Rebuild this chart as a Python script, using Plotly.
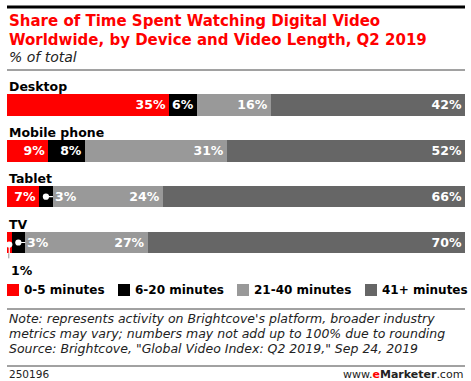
import plotly.graph_objects as go

devices = ["Desktop", "Mobile phone", "Tablet", "TV"]
lengths = ["0-5 minutes", "6-20 minutes", "21-40 minutes", "41+ minutes"]
values = {
    "0-5 minutes": [35, 9, 7, 1],
    "6-20 minutes": [6, 8, 3, 3],
    "21-40 minutes": [16, 31, 24, 27],
    "41+ minutes": [42, 52, 66, 70],
}
colors = ["#ff0000", "#000000", "#999999", "#666666"]
title_lines = ["Share of Time Spent Watching Digital Video",
               "Worldwide, by Device and Video Length, Q2 2019"]
subtitle = "% of total"
notes = ["Note: represents activity on Brightcove's platform, broader industry",
         "metrics may vary; numbers may not add up to 100% due to rounding",
         "Source: Brightcove, \"Global Video Index: Q2 2019,\" Sep 24, 2019"]

FONT = "DejaVu Sans"
W, H = 471, 381
ML, MR, MT, MB = 7, 6, 82, 111
BARGAP = 0.53
fig = go.Figure()

for i, (name, col) in enumerate(zip(lengths, colors)):
    vals = values[name]
    texts = [f"{v}%" if v >= 5 else "" for v in vals]
    fig.add_trace(go.Bar(
        y=devices, x=vals, name=name, orientation="h",
        marker=dict(color=col, line=dict(width=0)),
        text=texts, textposition="inside", insidetextanchor="end",
        textfont=dict(family=FONT, size=12.5, color="white", weight="bold"),
        textangle=0, cliponaxis=False, showlegend=False,
        hoverinfo="skip",
    ))

fig.update_layout(
    barmode="stack", barnorm="percent", bargap=BARGAP,
    width=W, height=H,
    margin=dict(l=ML, r=MR, t=MT, b=MB),
    paper_bgcolor="white", plot_bgcolor="white",
    xaxis=dict(range=[0, 100], visible=False, fixedrange=True),
    yaxis=dict(categoryorder="array", categoryarray=devices, autorange="reversed",
               visible=False, fixedrange=True),
    uniformtext=dict(minsize=8, mode="show"),
)


def py(px):
    return (H - MB - px) / (H - MT - MB)


def pxx(px):
    return (px - ML) / (W - ML - MR)


ann = []
shapes = []
for d in devices:
    ann.append(dict(xref="paper", yref="y", x=0, y=d, text=f"<b>{d}</b>",
                    showarrow=False, xanchor="left", yanchor="middle", yshift=18,
                    font=dict(family=FONT, size=12.5, color="black")))


def tot(i):
    return sum(values[n][i] for n in lengths)


callout = dict(showarrow=True, arrowhead=6, arrowsize=1.3, arrowwidth=1.2)

ti = devices.index("Tablet")
t = tot(ti)
x_mid = (values["0-5 minutes"][ti] + values["6-20 minutes"][ti] / 2) / t * 100
ann.append(dict(xref="x", yref="y", x=x_mid, y="Tablet", ax=7, ay=0,
                text=f"<b>{values['6-20 minutes'][ti]}%</b>", xanchor="left",
                arrowcolor="white", font=dict(family=FONT, size=12.5, color="white"),
                **callout))
vi = devices.index("TV")
t = tot(vi)
x_mid = (values["0-5 minutes"][vi] + values["6-20 minutes"][vi] / 2) / t * 100
ann.append(dict(xref="x", yref="y", x=x_mid, y="TV", ax=7, ay=0,
                text=f"<b>{values['6-20 minutes'][vi]}%</b>", xanchor="left",
                arrowcolor="white", font=dict(family=FONT, size=12.5, color="white"),
                **callout))
x_mid = values["0-5 minutes"][vi] / 2 / t * 100
ann.append(dict(xref="x", yref="y", x=x_mid, y="TV", ax=0, ay=16, yshift=-2,
                text=f"<b>{values['0-5 minutes'][vi]}%</b>", xanchor="left", yanchor="top",
                arrowcolor="white", font=dict(family=FONT, size=12.5, color="black"),
                **callout))
# dark part of the 1% leader below the bar
half = (1 - BARGAP) / 2
shapes.append(dict(type="line", xref="x", yref="y", x0=x_mid, x1=x_mid,
                   y0=vi + half, y1=vi + half + 0.11, layer="above",
                   line=dict(color="#111", width=1.5)))

for k, tl in enumerate(title_lines):
    ann.append(dict(xref="paper", yref="paper", x=0, y=py(21 + 19 * k),
                    text=f"<b>{tl}</b>", showarrow=False, xanchor="left", yanchor="middle",
                    font=dict(family=FONT, size=15, color="#ff0000")))
ann.append(dict(xref="paper", yref="paper", x=0, y=py(57), text=f"<i>{subtitle}</i>",
                showarrow=False, xanchor="left", yanchor="middle",
                font=dict(family=FONT, size=14, color="#222")))

leg_x = [7, 118, 237, 365]
for name, col, lx in zip(lengths, colors, leg_x):
    shapes.append(dict(type="rect", xref="paper", yref="paper",
                       x0=pxx(lx), x1=pxx(lx + 12), y0=py(296), y1=py(284),
                       fillcolor=col, line=dict(width=0)))
    ann.append(dict(xref="paper", yref="paper", x=pxx(lx + 15), y=py(290),
                    text=f"<b>{name}</b>", showarrow=False, xanchor="left", yanchor="middle",
                    font=dict(family=FONT, size=12, color="black")))

for k, nline in enumerate(notes):
    ann.append(dict(xref="paper", yref="paper", x=0, y=py(318 + 15 * k),
                    text=f"<i>{nline}</i>", showarrow=False, xanchor="left", yanchor="middle",
                    font=dict(family=FONT, size=12.5, color="#222")))
ann.append(dict(xref="paper", yref="paper", x=0, y=py(374), text="250196",
                showarrow=False, xanchor="left", yanchor="middle",
                font=dict(family=FONT, size=10.5, color="#222")))
ann.append(dict(xref="paper", yref="paper", x=1, y=py(374),
                text="www.<b><span style='color:#ff0000'>e</span>Marketer</b>.com",
                showarrow=False, xanchor="right", yanchor="middle",
                font=dict(family=FONT, size=11, color="#222")))


def hline(ypx, w, col):
    shapes.append(dict(type="line", xref="paper", yref="paper", x0=0, x1=1,
                       y0=py(ypx), y1=py(ypx), line=dict(color=col, width=w)))


hline(7, 3, "black")
hline(70, 1, "#444")
hline(309, 1, "#444")
hline(366, 1, "#444")

fig.update_layout(annotations=ann, shapes=shapes)
fig.write_html("out.html", config={"displayModeBar": False},
               post_script="document.body.style.margin='0';document.body.style.overflow='hidden';")
